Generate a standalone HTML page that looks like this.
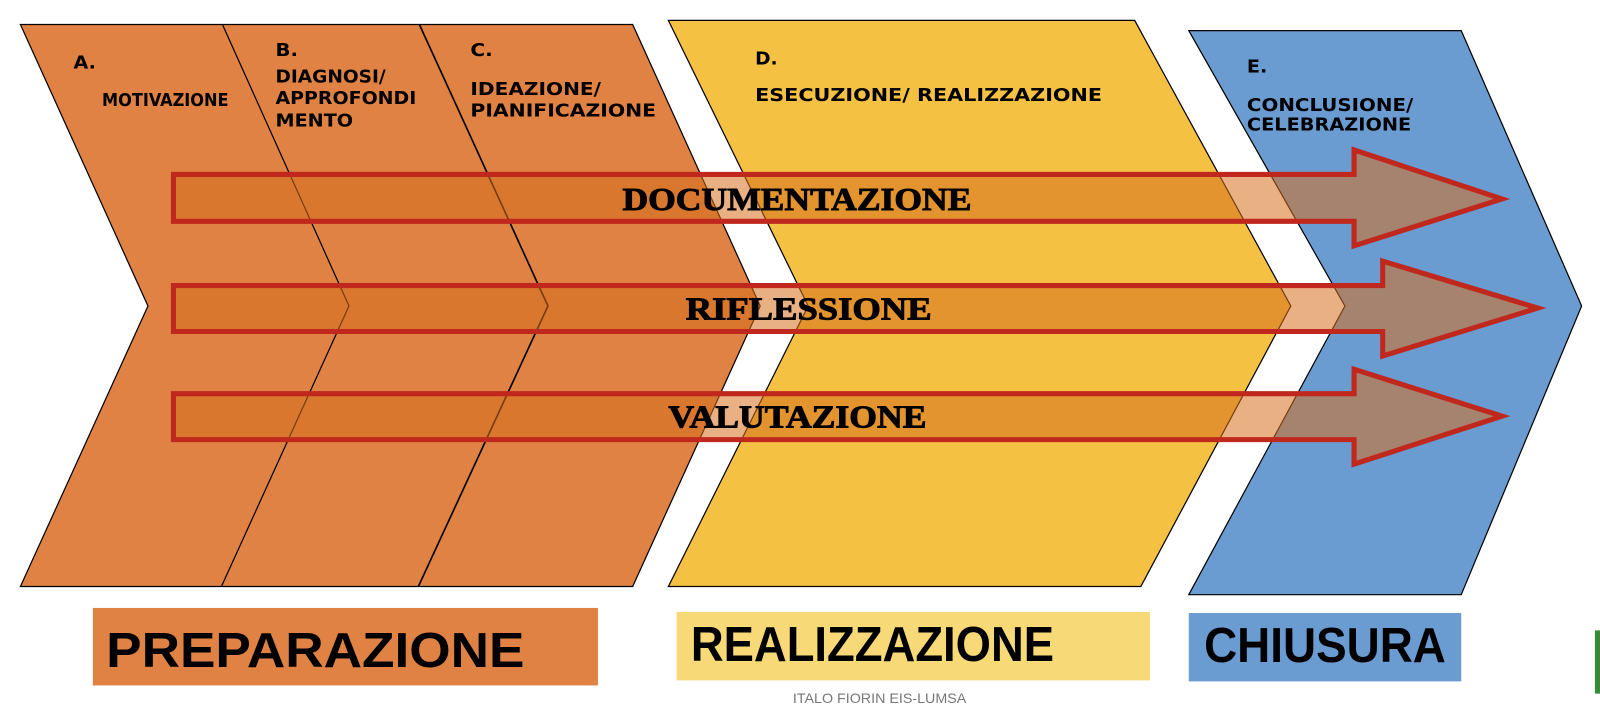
<!DOCTYPE html>
<html><head><meta charset="utf-8"><style>html,body{margin:0;padding:0;background:#fff;}svg{display:block}</style></head>
<body>
<svg width="1600" height="713" viewBox="0 0 1568 699" preserveAspectRatio="none" xmlns="http://www.w3.org/2000/svg">
<polygon points="20,24 620,24 745,300 620,575 20,575 145,300" fill="#df8244" stroke="#000" stroke-width="1.2"/>
<polyline points="218,24 342,300 217,575" fill="none" stroke="#000" stroke-width="1.2"/>
<polyline points="411,24 537,300 410,575" fill="none" stroke="#000" stroke-width="1.6"/>
<polygon points="655,20 1112,20 1265,300 1118,575 655,575 792,300" fill="#f4c143" stroke="#000" stroke-width="1.2"/>
<polygon points="1165,30 1432,30 1550,300 1432,583 1165,583 1318,300" fill="#6a9bd1" stroke="#000" stroke-width="1.2"/>

<g font-family="'DejaVu Sans Condensed','DejaVu Sans','Liberation Sans',sans-serif" font-weight="bold" font-size="17" fill="#000">
<text x="72" y="67" textLength="22" lengthAdjust="spacingAndGlyphs">A.</text>
<text x="100" y="104" textLength="124" lengthAdjust="spacingAndGlyphs">MOTIVAZIONE</text>
<text x="270" y="55" textLength="22" lengthAdjust="spacingAndGlyphs">B.</text>
<text x="270" y="81" textLength="108" lengthAdjust="spacingAndGlyphs">DIAGNOSI/</text>
<text x="270" y="102" textLength="138" lengthAdjust="spacingAndGlyphs">APPROFONDI</text>
<text x="270" y="124" textLength="76" lengthAdjust="spacingAndGlyphs">MENTO</text>
<text x="461" y="55" textLength="22" lengthAdjust="spacingAndGlyphs">C.</text>
<text x="461" y="93" textLength="128" lengthAdjust="spacingAndGlyphs">IDEAZIONE/</text>
<text x="461" y="114" textLength="182" lengthAdjust="spacingAndGlyphs">PIANIFICAZIONE</text>
<text x="740" y="63" textLength="22" lengthAdjust="spacingAndGlyphs">D.</text>
<text x="740" y="99" textLength="340" lengthAdjust="spacingAndGlyphs">ESECUZIONE/ REALIZZAZIONE</text>
<text x="1222" y="71" textLength="20" lengthAdjust="spacingAndGlyphs">E.</text>
<text x="1222" y="109" textLength="163" lengthAdjust="spacingAndGlyphs">CONCLUSIONE/</text>
<text x="1222" y="128" textLength="161" lengthAdjust="spacingAndGlyphs">CELEBRAZIONE</text>
</g>

<g fill="rgba(214,112,30,0.55)" stroke="#c0281e" stroke-width="5" stroke-linejoin="miter">
<polygon points="170,171 1327,171 1327,147 1472,195 1327,241 1327,217 170,217"/>
<polygon points="170,280 1355,280 1355,256 1507,302 1355,349 1355,325 170,325"/>
<polygon points="170,386 1327,386 1327,362 1472,408 1327,455 1327,431 170,431"/>
</g>
<g font-family="'Liberation Serif',serif" font-weight="bold" font-size="31" fill="#000" stroke="#000" stroke-width="0.9">
<text x="610" y="206" textLength="342" lengthAdjust="spacingAndGlyphs">DOCUMENTAZIONE</text>
<text x="672" y="313" textLength="241" lengthAdjust="spacingAndGlyphs">RIFLESSIONE</text>
<text x="655" y="419" textLength="253" lengthAdjust="spacingAndGlyphs">VALUTAZIONE</text>
</g>

<rect x="91" y="596" width="495" height="76" fill="#df8244"/>
<rect x="663" y="600" width="464" height="67" fill="#f8d977"/>
<rect x="1165" y="601" width="267" height="67" fill="#6a9bd1"/>
<g font-family="'Liberation Sans',sans-serif" font-weight="bold" font-size="48" fill="#000">
<text x="104" y="654" textLength="410" lengthAdjust="spacingAndGlyphs">PREPARAZIONE</text>
<text x="677" y="648" textLength="356" lengthAdjust="spacingAndGlyphs">REALIZZAZIONE</text>
<text x="1180" y="649" textLength="237" lengthAdjust="spacingAndGlyphs">CHIUSURA</text>
</g>
<text x="862" y="689" text-anchor="middle" font-family="'Liberation Sans',sans-serif" font-size="14" fill="#777">ITALO FIORIN EIS-LUMSA</text>
<rect x="1563" y="618" width="5" height="62" fill="#3a8a3a"/>
</svg>
</body></html>
